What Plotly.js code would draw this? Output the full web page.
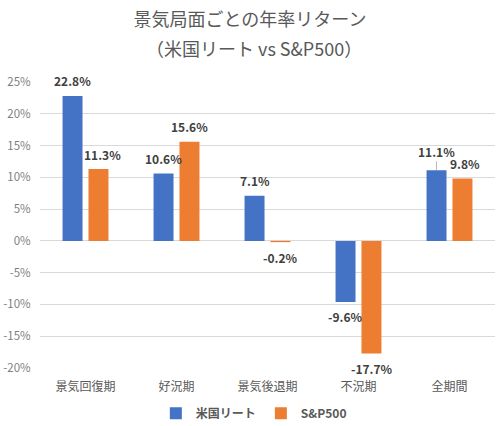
<!DOCTYPE html>
<html>
<head>
<meta charset="utf-8">
<script src="https://cdn.plot.ly/plotly-3.0.1.min.js"></script>
<style>html,body{margin:0;padding:0;background:#fff;}#chart{width:500px;height:426px;}</style>
</head>
<body>
<div id="chart"></div>
<script>
const categories = ['景気回復期', '好況期', '景気後退期', '不況期', '全期間'];
const reitValues = [22.8, 10.6, 7.1, -9.6, 11.1];
const spValues = [11.3, 15.6, -0.2, -17.7, 9.8];
const seriesNames = ['米国リート', 'S&P500'];
const yTickVals = [25, 20, 15, 10, 5, 0, -5, -10, -15, -20];
const yTickText = ['25%', '20%', '15%', '10%', '5%', '0%', '-5%', '-10%', '-15%', '-20%'];
const titleLine1 = '景気局面ごとの年率リターン';
const titleLine2 = '（米国リート vs S&P500）';

const FONT = '"Noto Sans CJK JP", "Noto Sans", sans-serif';
const BLUE = '#4472C4';
const ORANGE = '#ED7D31';

const traces = [
  {type: 'bar', name: seriesNames[0], x: categories, y: reitValues, marker: {color: BLUE}, hoverinfo: 'none'},
  {type: 'bar', name: seriesNames[1], x: categories, y: spValues, marker: {color: ORANGE}, hoverinfo: 'none'}
];

const annotations = [];
function addLabels(vals, xshift, special) {
  vals.forEach((v, i) => {
    const a = {
      x: categories[i], y: v, xref: 'x', yref: 'y',
      text: v.toFixed(1) + '%',
      showarrow: false,
      xshift: xshift + ((special[i] && special[i].dx) || 0),
      yshift: v >= 0 ? 15 : -15,
      font: {family: FONT, size: 12, color: '#404040', weight: 'bold'},
      xanchor: 'center', yanchor: 'middle'
    };
    if (special[i] && special[i].arrow) {
      a.showarrow = true; a.arrowhead = 0; a.arrowwidth = 0.8; a.arrowcolor = '#a6a6a6';
      a.ax = 0; a.ay = -19; a.yshift = 0; a.standoff = 0;
    }
    annotations.push(a);
  });
}
addLabels(reitValues, -13, {4: {arrow: true}});
addLabels(spValues, 13, {0: {dx: 4}, 4: {dx: 2}});

annotations.push({
  xref: 'paper', yref: 'paper', x: 0.47, y: 1.119, xanchor: 'center', yanchor: 'middle',
  text: titleLine2, showarrow: false,
  font: {family: FONT, size: 18, color: '#595959'}
});

const layout = {
  width: 500, height: 426,
  margin: {l: 40, r: 5, t: 82, b: 58, autoexpand: false},
  paper_bgcolor: '#ffffff', plot_bgcolor: '#ffffff',
  font: {family: FONT, color: '#595959'},
  title: {
    text: titleLine1,
    font: {family: FONT, size: 18, color: '#595959'},
    x: 0.5, xanchor: 'center', y: 0.953, yanchor: 'middle'
  },
  barmode: 'group', bargap: 0.43, bargroupgap: 0.23,
  xaxis: {
    type: 'category', showgrid: false, zeroline: false, showline: false, automargin: false,
    ticks: 'outside', ticklen: 8, tickcolor: 'rgba(0,0,0,0)',
    tickfont: {family: FONT, size: 12, color: '#595959'}
  },
  yaxis: {
    range: [-20, 25], tickvals: yTickVals, ticktext: yTickText, automargin: false,
    showgrid: true, gridcolor: '#d9d9d9', gridwidth: 1,
    zeroline: true, zerolinecolor: '#d9d9d9', zerolinewidth: 1,
    showline: false, ticks: 'outside', ticklen: 6, tickcolor: 'rgba(0,0,0,0)',
    tickfont: {family: FONT, size: 11.5, color: '#7f7f7f'}
  },
  showlegend: true,
  legend: {
    orientation: 'h', x: 0.47, xanchor: 'center', y: -0.158, yanchor: 'middle',
    itemwidth: 30, traceorder: 'normal', bgcolor: 'rgba(0,0,0,0)',
    font: {family: FONT, size: 12, color: '#595959', weight: 'bold'}
  },
  annotations: annotations
};

Plotly.newPlot('chart', traces, layout, {displayModeBar: false, staticPlot: true});
</script>
</body>
</html>
